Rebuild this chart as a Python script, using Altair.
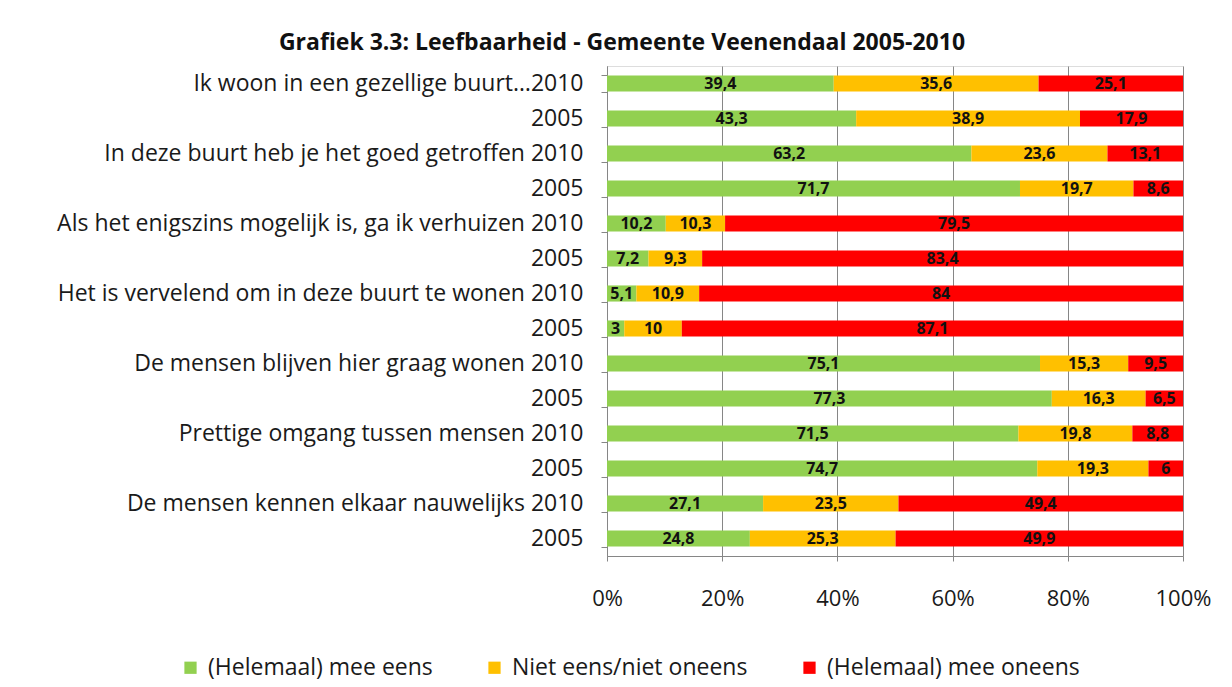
import altair as alt
import pandas as pd

row_labels = [
    "Ik woon in een gezellige buurt…2010", "2005",
    "In deze buurt heb je het goed getroffen 2010", "2005",
    "Als het enigszins mogelijk is, ga ik verhuizen 2010", "2005",
    "Het is vervelend om in deze buurt te wonen 2010", "2005",
    "De mensen blijven hier graag wonen 2010", "2005",
    "Prettige omgang tussen mensen 2010", "2005",
    "De mensen kennen elkaar nauwelijks 2010", "2005",
]
series = ["(Helemaal) mee eens", "Niet eens/niet oneens", "(Helemaal) mee oneens"]
eens = [39.4, 43.3, 63.2, 71.7, 10.2, 7.2, 5.1, 3, 75.1, 77.3, 71.5, 74.7, 27.1, 24.8]
neutraal = [35.6, 38.9, 23.6, 19.7, 10.3, 9.3, 10.9, 10, 15.3, 16.3, 19.8, 19.3, 23.5, 25.3]
oneens = [25.1, 17.9, 13.1, 8.6, 79.5, 83.4, 84, 87.1, 9.5, 6.5, 8.8, 6, 49.4, 49.9]
colors = ["#92D050", "#FFC000", "#FF0000"]


def fmt(v):
    s = ("%g" % v)
    return s.replace(".", ",")


rows = []
for i in range(len(row_labels)):
    for k, vals in enumerate([eens, neutraal, oneens]):
        rows.append({"idx": i, "serie": series[k], "order": k,
                     "v": vals[i], "lbl": fmt(vals[i])})
df = pd.DataFrame(rows)

label_expr = "[" + ",".join("'" + s + "'" for s in row_labels) + "][datum.value]"

FONT = "Open Sans"

base = alt.Chart(df).transform_stack(
    stack="v", groupby=["idx"], as_=["x0", "x1"], offset="normalize",
    sort=[alt.SortField("order", order="ascending")]
).transform_calculate(mid="(datum.x0 + datum.x1) / 2")

y_enc = alt.Y("idx:O", sort="ascending", title=None,
              scale=alt.Scale(paddingInner=0.54, paddingOuter=0.27),
              axis=alt.Axis(labelExpr=label_expr, labelFont=FONT, labelFontSize=23,
                            labelColor="#1a1a1a", labelPadding=18, tickSize=6,
                            tickBand="extent", tickColor="#868686",
                            domainColor="#868686", minExtent=594, maxExtent=594,
                            labelLimit=600, grid=False))

bars = base.mark_bar().encode(
    x=alt.X("x0:Q", title=None, scale=alt.Scale(domain=[0, 1], nice=False),
            axis=alt.Axis(format="%", values=[0, 0.2, 0.4, 0.6, 0.8, 1.0],
                          labelFont=FONT, labelFontSize=22, labelColor="#1a1a1a",
                          labelPadding=27, labelFlush=False, tickSize=5,
                          tickColor="#868686", domainColor="#868686", grid=True,
                          gridColor="#868686", gridWidth=1)),
    x2="x1:Q",
    y=y_enc,
    color=alt.Color("serie:N", title=None,
                    scale=alt.Scale(domain=series, range=colors),
                    sort=series,
                    legend=alt.Legend(orient="none", legendX=-428, legendY=590,
                                      direction="horizontal", symbolType="square",
                                      symbolSize=150, symbolStrokeWidth=0,
                                      labelFont=FONT, labelFontSize=23,
                                      labelColor="#1a1a1a", columnPadding=50,
                                      labelOffset=6, labelLimit=400)),
)

texts = base.mark_text(font=FONT, fontSize=16, fontWeight="bold", color="#111111").encode(
    x=alt.X("mid:Q"),
    y=alt.Y("idx:O", sort="ascending"),
    text="lbl:N",
)

chart = alt.layer(bars, texts).properties(
    width=576, height=490,
    padding={"left": 5, "top": 24, "right": 10, "bottom": 5},
    title=alt.TitleParams("Grafiek 3.3: Leefbaarheid - Gemeente Veenendaal 2005-2010",
                          font=FONT, fontSize=23, fontWeight="bold", color="#111111",
                          anchor="middle", frame="bounds", offset=0, dx=10),
).configure_view(stroke=None).configure(background="white")

chart.save("out.html", embed_options={"renderer": "svg", "actions": False})
